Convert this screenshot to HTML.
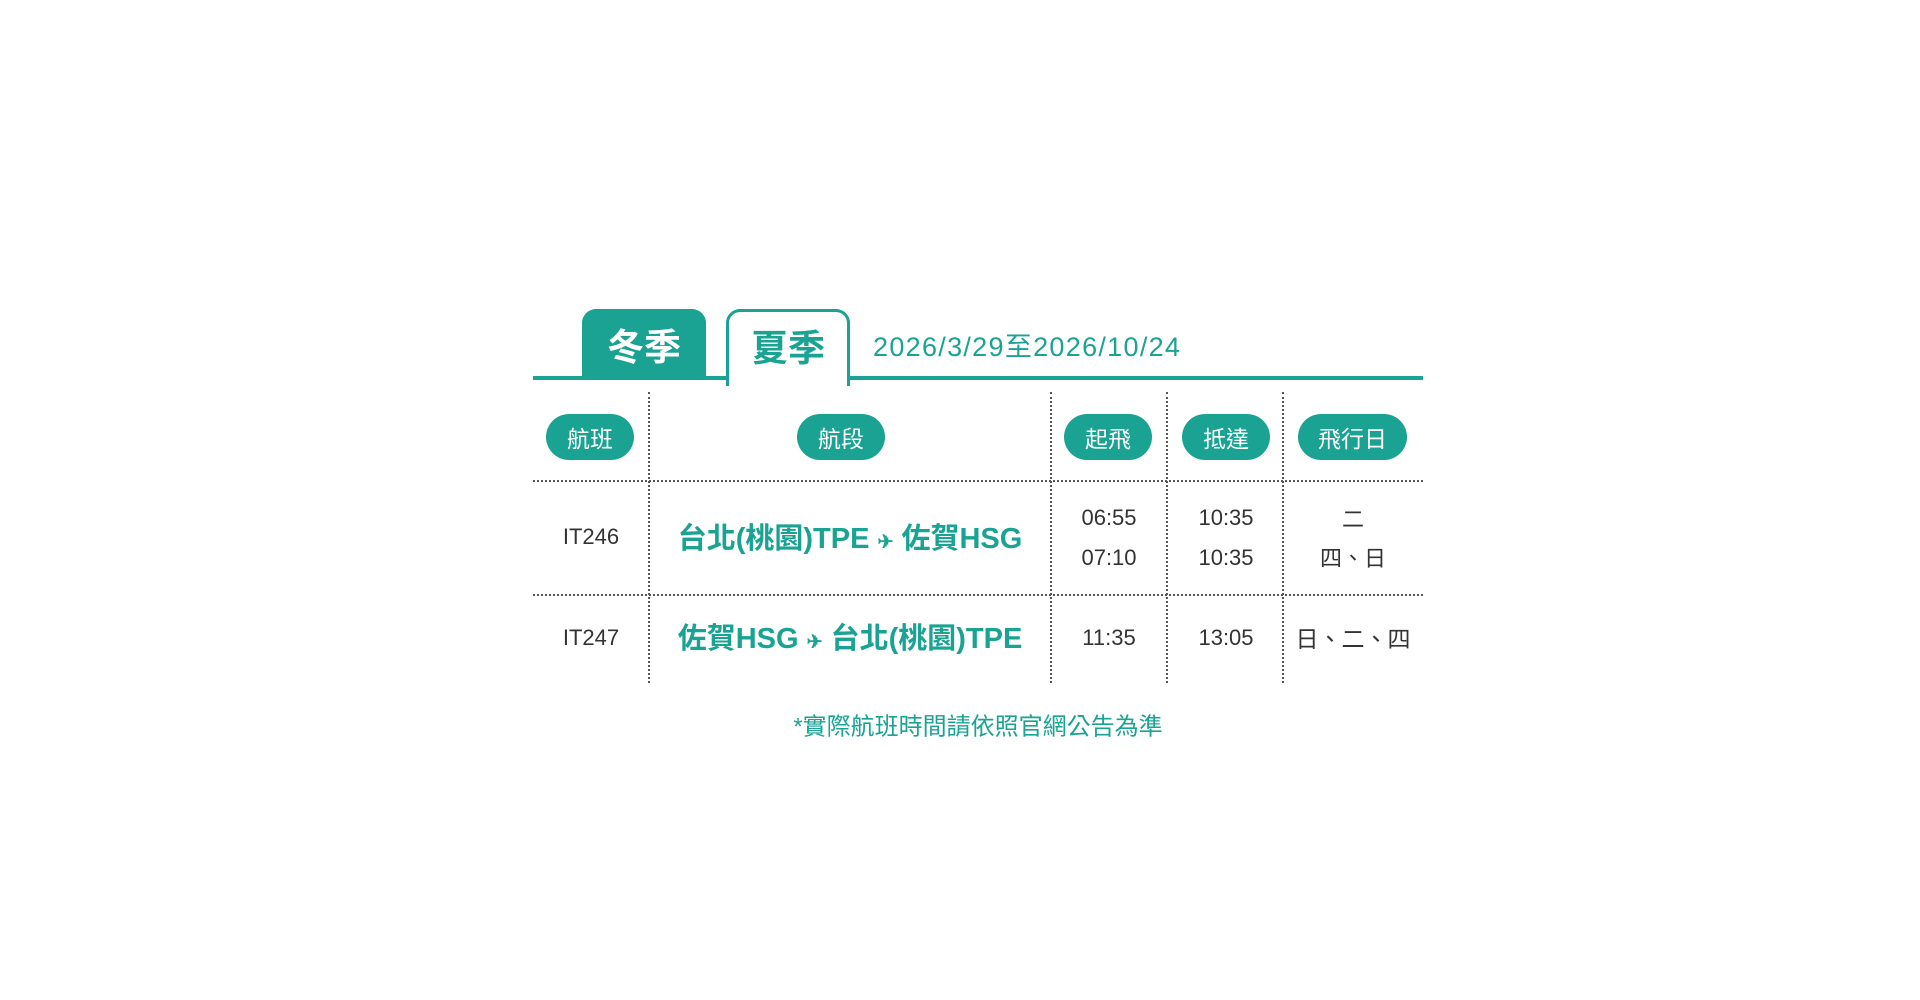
<!DOCTYPE html>
<html><head><meta charset="utf-8"><style>
body{margin:0;width:1920px;height:1000px;background:#fff;position:relative;overflow:hidden;font-family:"Liberation Sans","Noto Sans CJK TC",sans-serif;}
.a{position:absolute}
.c{position:absolute;transform:translate(-50%,-50%);white-space:nowrap}
.pill{position:absolute;top:414px;height:46px;border-radius:23px;background:#1aa393;color:#fff;font-size:23px;display:flex;align-items:center;justify-content:center}
.vd{position:absolute;top:392px;height:291px;border-left:2px dotted #555}
.hd{position:absolute;left:533px;width:890px;border-top:2px dotted #555}
.t{font-size:22px;color:#333}
.r{font-size:29px;font-weight:bold;color:#1aa393}
</style></head><body>
<div class="a" style="left:533px;top:376px;width:890px;height:4px;background:#1aa393"></div>
<div class="a" style="left:582px;top:309px;width:124px;height:69px;background:#1aa393;border-radius:14px 14px 0 0"></div>
<div class="c" style="left:644px;top:344px;font-size:37px;font-weight:bold;color:#fff">冬季</div>
<div class="a" style="left:726px;top:309px;width:118px;height:74px;border:3px solid #1aa393;border-bottom:none;border-radius:14px 14px 0 0;background:#fff"></div>
<div class="c" style="left:788px;top:345px;font-size:37px;font-weight:bold;color:#1aa393">夏季</div>
<div class="a" style="left:873px;top:325px;font-size:27px;color:#1aa393;letter-spacing:1.3px;white-space:nowrap">2026/3/29至2026/10/24</div>

<div class="pill" style="left:546px;width:88px">航班</div>
<div class="pill" style="left:797px;width:88px">航段</div>
<div class="pill" style="left:1064px;width:88px">起飛</div>
<div class="pill" style="left:1182px;width:88px">抵達</div>
<div class="pill" style="left:1298px;width:109px">飛行日</div>

<div class="vd" style="left:648px"></div>
<div class="vd" style="left:1050px"></div>
<div class="vd" style="left:1166px"></div>
<div class="vd" style="left:1282px"></div>
<div class="hd" style="top:480px"></div>
<div class="hd" style="top:594px"></div>

<div class="c t" style="left:591px;top:537px">IT246</div>
<div class="c r" style="left:850px;top:536px">台北(桃園)TPE <span style="font-size:19px">✈</span> 佐賀HSG</div>
<div class="c t" style="left:1109px;top:518px">06:55</div>
<div class="c t" style="left:1109px;top:558px">07:10</div>
<div class="c t" style="left:1226px;top:518px">10:35</div>
<div class="c t" style="left:1226px;top:558px">10:35</div>
<div class="c t" style="left:1353px;top:518px">二</div>
<div class="c t" style="left:1353px;top:557px">四、日</div>

<div class="c t" style="left:591px;top:638px">IT247</div>
<div class="c r" style="left:850px;top:636px">佐賀HSG <span style="font-size:19px">✈</span> 台北(桃園)TPE</div>
<div class="c t" style="left:1109px;top:638px">11:35</div>
<div class="c t" style="left:1226px;top:638px">13:05</div>
<div class="c t" style="left:1353px;top:637px;font-size:23px">日、二、四</div>

<div class="c" style="left:978px;top:724px;font-size:24px;color:#1aa393">*實際航班時間請依照官網公告為準</div>
</body></html>
